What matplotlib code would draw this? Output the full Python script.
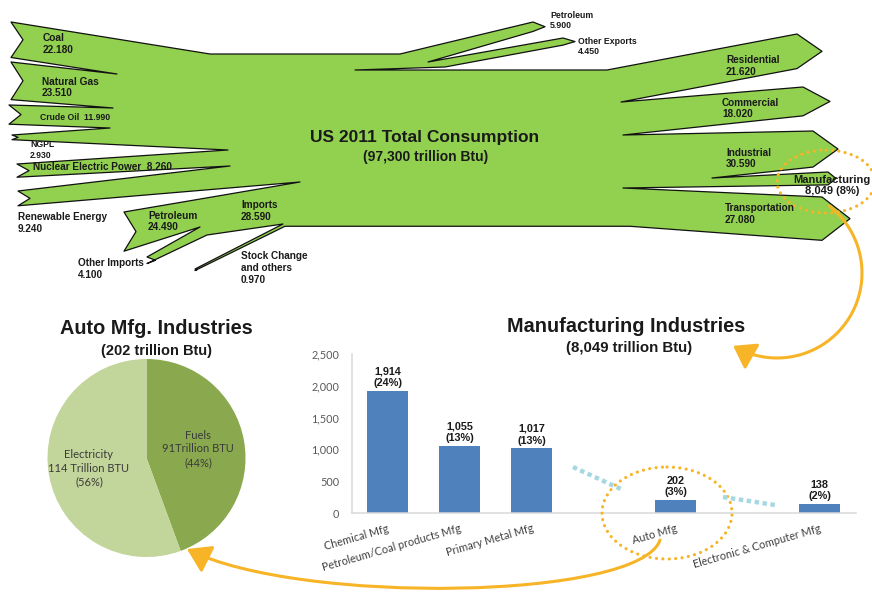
import numpy as np
import matplotlib
matplotlib.use("Agg")
import matplotlib.pyplot as plt
from matplotlib.patches import Polygon, Ellipse, FancyArrowPatch
from matplotlib.path import Path

# US 2011 energy flow (quadrillion Btu)
source_names = ["Coal", "Natural Gas", "Crude Oil", "NGPL", "Nuclear Electric Power",
                "Renewable Energy", "Petroleum", "Other Imports", "Stock Change\nand others"]
source_values = [22.180, 23.510, 11.990, 2.930, 8.260, 9.240, 24.490, 4.100, 0.970]
imports_total = 28.590

use_names = ["Petroleum", "Other Exports", "Residential", "Commercial", "Industrial", "Transportation"]
use_values = [5.900, 4.450, 21.620, 18.020, 30.590, 27.080]
manufacturing_value = 8.049
total_consumption = 97.3

# manufacturing sub-sectors (trillion Btu)
mfg_names = ["Chemical Mfg", "Petroleum/Coal products Mfg", "Primary Metal Mfg",
             "Auto Mfg", "Electronic & Computer Mfg"]
mfg_values = [1914, 1055, 1017, 202, 138]
mfg_total = 8049

# auto manufacturing energy by type (trillion Btu)
auto_names = ["Fuels", "Electricity"]
auto_values = [91, 114]
auto_total = 202

# ---- layout (pixels, origin top-left) ----
W, H = 872, 592
PX = 1.6           # pixels per quadrillion Btu
TRUNK_TOP = 54
src_tail = [(11, 22), (11, 62), (9, 105), (12, 135), (17, 164), (18, 191),
            (124, 212), (147, 257), (195, 269)]
src_joins = [(117, 74), (113, 108), (110, 128), (228, 150), (230, 166), (300, 182),
             (200, 227), (283, 224)]
src_bottom_bends = {7: [(207, 235)]}
trunk_left = (210, 285)
trunk_right = (400, 630)
use_head = [(533, 22, 12), (563, 38, 12), (797, 34, 25), (803, 87, 27),
            (813, 131, 25), (828, 172, 8), (822, 197, 28)]
use_joins = [(428, 62), (355, 70), (621, 102), (623, 135), (712, 178), (623, 188)]
use_top_bends = {2: [(607, 70)]}
use_bottom_bends = {1: [(445, 67)]}

src_label_xy = [(43, 44), (42, 87.5), (40, 118), (30, 150), (33, 167), (18, 223),
                (148, 221.7), (78, 268.7), (241, 268)]
src_label_sep = ["\n", "\n", "  ", "\n", "  ", "\n", "\n", "\n", "\n"]
src_label_size = [7.3, 7.3, 6.2, 6.2, 7.2, 7.2, 7.3, 7.2, 7.2]
use_label_xy = [(550, 20.7), (578, 46.3), (726, 66), (722, 108.5), (726, 158.5), (725, 214)]
use_label_size = [6.3, 6.3, 7.2, 7.2, 7.2, 7.2]

GREEN = "#92D050"
ORANGE = "#F6B426"
BLUE = "#4F81BD"
SANS = "Liberation Sans"
SOFT = "Lato"

fig = plt.figure(figsize=(W / 100, H / 100), dpi=100)
fig.patch.set_facecolor("white")

# ---- bar chart: manufacturing industries ----
mfg_pos = [0, 1, 2, 4, 6]
ax_bar = fig.add_axes([351.5 / W, (H - 513) / H, 504 / W, 159 / H])
ax_bar.patch.set_visible(False)
ax_bar.bar(mfg_pos, mfg_values, width=0.57, color=BLUE, zorder=2)
ax_bar.set_xlim(-0.5, 6.5)
ax_bar.set_ylim(0, 2500)
ax_bar.set_yticks(range(0, 2501, 500), [f"{t:,}" for t in range(0, 2501, 500)],
                  family=SOFT, fontsize=7.8, color="#595959")
ax_bar.set_xticks(mfg_pos, mfg_names, rotation=16, ha="right", va="top",
                  rotation_mode="anchor", family=SOFT, fontsize=7.8, color="#404040")
ax_bar.tick_params(length=0)
ax_bar.tick_params(axis="y", pad=9)
ax_bar.tick_params(axis="x", pad=7)
for side in ["top", "right"]:
    ax_bar.spines[side].set_visible(False)
for side in ["left", "bottom"]:
    ax_bar.spines[side].set_color("#D9D9D9")
    ax_bar.spines[side].set_linewidth(1.1)
for p, v in zip(mfg_pos, mfg_values):
    ax_bar.annotate(f"{v:,}\n({v / mfg_total * 100:.0f}%)", (p, v), xytext=(0, 2),
                    textcoords="offset points", ha="center", va="bottom",
                    family=SANS, fontweight="bold", fontsize=7.8, color="#1a1a1a")

# ---- pie: auto manufacturing ----
ax_pie = fig.add_axes([47.5 / W, (H - 557) / H, 198 / W, 198 / H])
wedges, _ = ax_pie.pie(auto_values, colors=["#8AA94F", "#C2D59A"], startangle=90,
                       counterclock=False, wedgeprops=dict(linewidth=0))
ax_pie.set_xlim(-1, 1)
ax_pie.set_ylim(-1, 1)
label_r = [0.53, 0.59]
unit_sep = ["", " "]
for wdg, name, v, r, sep in zip(wedges, auto_names, auto_values, label_r, unit_sep):
    mid = np.radians((wdg.theta1 + wdg.theta2) / 2)
    pct = v / sum(auto_values) * 100
    ax_pie.text(r * np.cos(mid), r * np.sin(mid), f"{name}\n{v}{sep}Trillion BTU\n({pct:.0f}%)",
                ha="center", va="center", family=SOFT, fontsize=8, color="#3a3a3a",
                linespacing=1.3)

# ---- overlay in pixel space: flow diagram and call-outs ----
ax = fig.add_axes([0, 0, 1, 1])
ax.set_xlim(0, W)
ax.set_ylim(H, 0)
ax.axis("off")
ax.patch.set_visible(False)

use_bands = use_values[:4] + [use_values[4] - manufacturing_value, manufacturing_value, use_values[5]]
y_bot = TRUNK_TOP + sum(source_values) * PX

pts = [(trunk_left[0], TRUNK_TOP), (trunk_right[0], TRUNK_TOP)]
for i, v in enumerate(use_bands):
    hx, hy, d = use_head[i]
    w = v * PX
    pts += use_top_bends.get(i, [])
    pts += [(hx, hy), (hx + d, hy + w / 2), (hx, hy + w)]
    pts += use_bottom_bends.get(i, [])
    pts.append(use_joins[i] if i < len(use_joins) else (trunk_right[1], y_bot))
pts.append((trunk_left[1], y_bot))
for j in reversed(range(len(source_values))):
    tx, ty = src_tail[j]
    w = source_values[j] * PX
    notch = min(12, 1.3 * w)
    pts += src_bottom_bends.get(j, [])
    pts += [(tx, ty + w), (tx + notch, ty + w / 2), (tx, ty)]
    if j > 0:
        pts.append(src_joins[j - 1])
ax.add_patch(Polygon(pts, closed=True, facecolor=GREEN, edgecolor="#111111",
                     linewidth=0.9, joinstyle="round"))

for name, v, (x, y), sep, fs in zip(source_names, source_values, src_label_xy,
                                     src_label_sep, src_label_size):
    ax.text(x, y, f"{name}{sep}{v:.3f}", ha="left", va="center", family=SANS,
            fontweight="bold", fontsize=fs, color="#1a1a1a")
ax.text(241, 210.7, f"Imports\n{imports_total:.3f}", ha="left", va="center", family=SANS,
        fontweight="bold", fontsize=7.2, color="#1a1a1a")
for name, v, (x, y), fs in zip(use_names, use_values, use_label_xy, use_label_size):
    ax.text(x, y, f"{name}\n{v:.3f}", ha="left", va="center", family=SANS,
            fontweight="bold", fontsize=fs, color="#1a1a1a")
share = manufacturing_value / total_consumption * 100
ax.text(832, 185.5, f"Manufacturing\n{manufacturing_value * 1000:,.0f} ({share:.0f}%)",
        ha="center", va="center", family=SANS, fontweight="bold", fontsize=8, color="#1a1a1a")

ax.text(425, 137.7, "US 2011 Total Consumption", ha="center", va="center", family=SANS,
        fontweight="bold", fontsize=12.5, color="#1a1a1a")
ax.text(426, 157.3, f"({total_consumption * 1000:,.0f} trillion Btu)", ha="center",
        va="center", family=SANS, fontweight="bold", fontsize=10, color="#1a1a1a")

# section titles
ax.text(156, 328, "Auto Mfg. Industries", ha="center", va="center", family=SANS,
        fontweight="bold", fontsize=14.3, color="#1a1a1a")
ax.text(156, 351, f"({auto_total} trillion Btu)", ha="center", va="center", family=SANS,
        fontweight="bold", fontsize=10.5, color="#1a1a1a")
ax.text(626, 327, "Manufacturing Industries", ha="center", va="center", family=SANS,
        fontweight="bold", fontsize=14.3, color="#1a1a1a")
ax.text(629.5, 348, f"({mfg_total:,} trillion Btu)", ha="center", va="center", family=SANS,
        fontweight="bold", fontsize=10.8, color="#1a1a1a")

# broken-axis hints between bar groups
for (x0, y0), (x1, y1) in [((573, 467), (623, 490)), ((723, 497), (775, 505))]:
    ax.plot([x0, x1], [y0, y1], color="#A6D8E2", lw=3.2, ls=(0, (1, 0.8)),
            solid_capstyle="butt", dash_capstyle="butt")

# dotted highlight rings
for (cx, cy), ew, eh in [((826, 181.5), 98, 63), ((667, 513), 130, 92)]:
    ring = Ellipse((cx, cy), ew, eh, fill=False, edgecolor=ORANGE, linewidth=2.3,
                   linestyle=(0, (0.01, 2.0)))
    ring.set_capstyle("round")
    ax.add_patch(ring)

# curved call-out arrows
theta = np.radians(np.linspace(52, -121, 60))
arc = np.column_stack([777 + 85 * np.cos(theta), 273 - 85 * np.sin(theta)])
ax.add_patch(FancyArrowPatch(path=Path(arc), arrowstyle="-|>,head_length=0.65,head_width=0.45",
                             mutation_scale=20, color=ORANGE, lw=2.2))
curve = Path([(660, 540), (640, 600), (300, 605), (187, 549)],
             [Path.MOVETO, Path.CURVE4, Path.CURVE4, Path.CURVE4])
ax.add_patch(FancyArrowPatch(path=curve, arrowstyle="-|>,head_length=0.7,head_width=0.45",
                             mutation_scale=20, color=ORANGE, lw=2.2))

fig.savefig("out.png", dpi=100)
